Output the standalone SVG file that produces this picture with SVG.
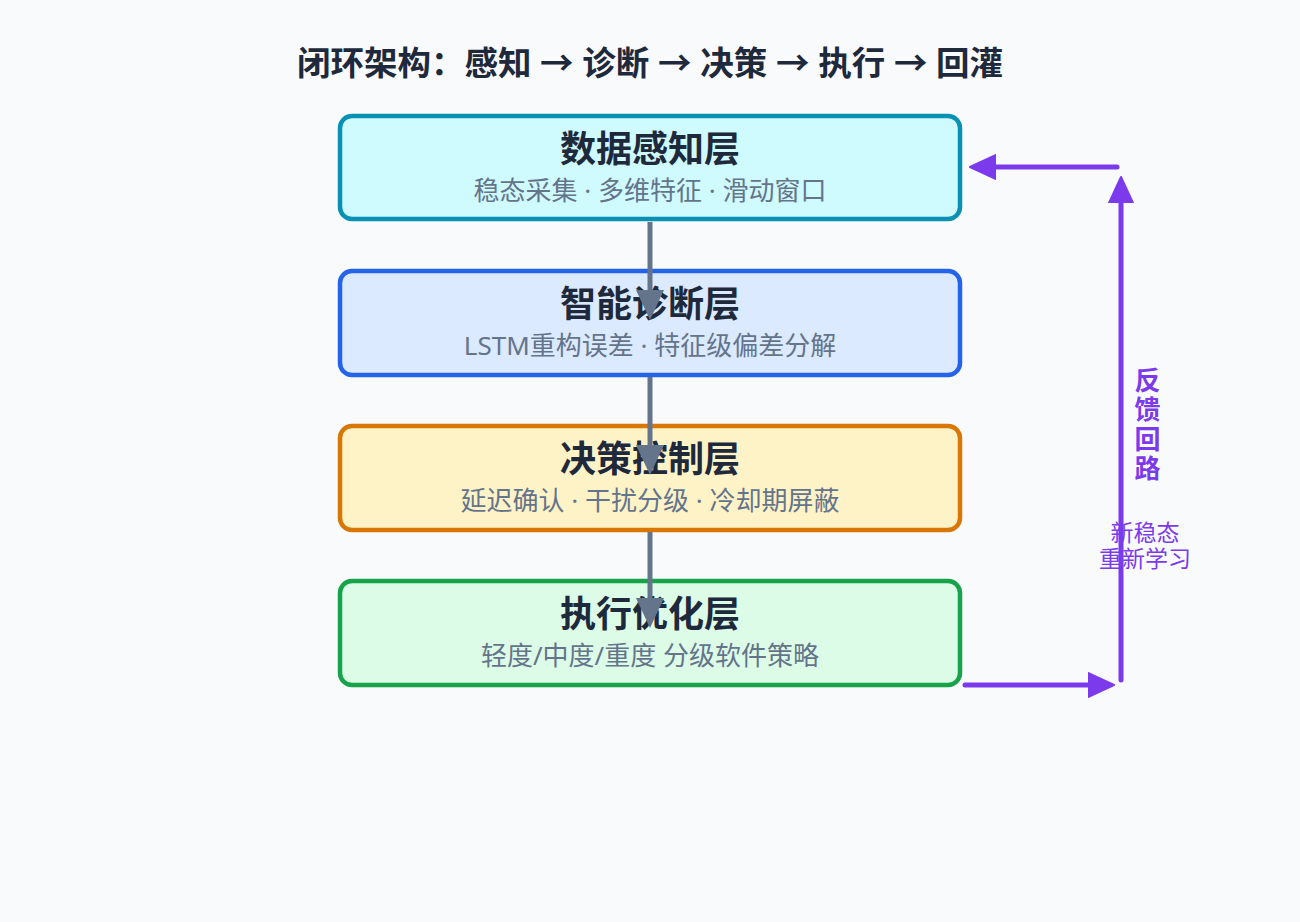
<svg xmlns="http://www.w3.org/2000/svg" width="1300" height="922" viewBox="0 0 1300 922">
<style>
.bg{fill:#f8fafc}
.box{stroke-width:4.5}
.t{font-family:"Noto Sans","Noto Sans CJK SC",sans-serif;font-weight:700;fill:#1e293b;text-anchor:middle}
.s{font-family:"Noto Sans","Noto Sans CJK SC",sans-serif;fill:#64748b;text-anchor:middle;font-size:26px}
.g{stroke:#64748b;stroke-width:5;fill:none}
.p{stroke:#7c3aed;stroke-width:5;fill:none;stroke-linecap:round}
.pl{font-family:"Noto Sans","Noto Sans CJK SC",sans-serif;fill:#7c3aed;text-anchor:middle}
</style>
<defs>
<marker id="ag" markerUnits="userSpaceOnUse" markerWidth="30" markerHeight="30" viewBox="0 0 30 30" refX="0" refY="15" orient="auto">
<path d="M0,1 L30,15 L0,29 Z" fill="#64748b"/>
</marker>
<marker id="ap" markerUnits="userSpaceOnUse" markerWidth="28" markerHeight="28" viewBox="0 0 28 28" refX="0" refY="14" orient="auto">
<path d="M0,2 L26,14 L0,26 Z" fill="#7c3aed" stroke="#7c3aed" stroke-width="2" stroke-linejoin="round"/>
</marker>
</defs>
<rect class="bg" x="0" y="0" width="1300" height="922"/>
<text class="t" x="650" y="75" font-size="33.5">闭环架构：感知 → 诊断 → 决策 → 执行 → 回灌</text>
<g id="node-perception">
<rect class="box" x="340" y="116" width="620" height="103" rx="12" fill="#cffafe" stroke="#0891b2"/>
<text class="t" x="650" y="162" font-size="36">数据感知层</text>
<text class="s" x="650" y="200">稳态采集 · 多维特征 · 滑动窗口</text>
</g>
<g id="node-diagnosis">
<rect class="box" x="340" y="271" width="620" height="104" rx="12" fill="#dbeafe" stroke="#2563eb"/>
<text class="t" x="650" y="317" font-size="36">智能诊断层</text>
<text class="s" x="650" y="355">LSTM重构误差 · 特征级偏差分解</text>
</g>
<g id="node-decision">
<rect class="box" x="340" y="426" width="620" height="104" rx="12" fill="#fef3c7" stroke="#d97706"/>
<text class="t" x="650" y="472" font-size="36">决策控制层</text>
<text class="s" x="650" y="510">延迟确认 · 干扰分级 · 冷却期屏蔽</text>
</g>
<g id="node-execution">
<rect class="box" x="340" y="581" width="620" height="104" rx="12" fill="#dcfce7" stroke="#16a34a"/>
<text class="t" x="650" y="627" font-size="36">执行优化层</text>
<text class="s" x="650" y="665">轻度/中度/重度 分级软件策略</text>
</g>
<g id="connectors">
<line class="g" x1="650" y1="222" x2="650" y2="290" marker-end="url(#ag)"/>
<line class="g" x1="650" y1="377" x2="650" y2="445" marker-end="url(#ag)"/>
<line class="g" x1="650" y1="532" x2="650" y2="598" marker-end="url(#ag)"/>
<line class="p" x1="965" y1="685" x2="1088" y2="685" marker-end="url(#ap)"/>
<line class="p" x1="1121" y1="680" x2="1121" y2="203" marker-end="url(#ap)"/>
<line class="p" x1="1117" y1="167" x2="996" y2="167" marker-end="url(#ap)"/>
</g>
<g id="feedback-label">
<text class="pl" x="1146" y="367" font-size="26" font-weight="700" writing-mode="vertical-rl" letter-spacing="3.5" style="text-anchor:start">反馈回路</text>
<text class="pl" x="1145" y="541" font-size="23">新稳态</text>
<text class="pl" x="1145" y="567" font-size="23">重新学习</text>
</g>
</svg>
